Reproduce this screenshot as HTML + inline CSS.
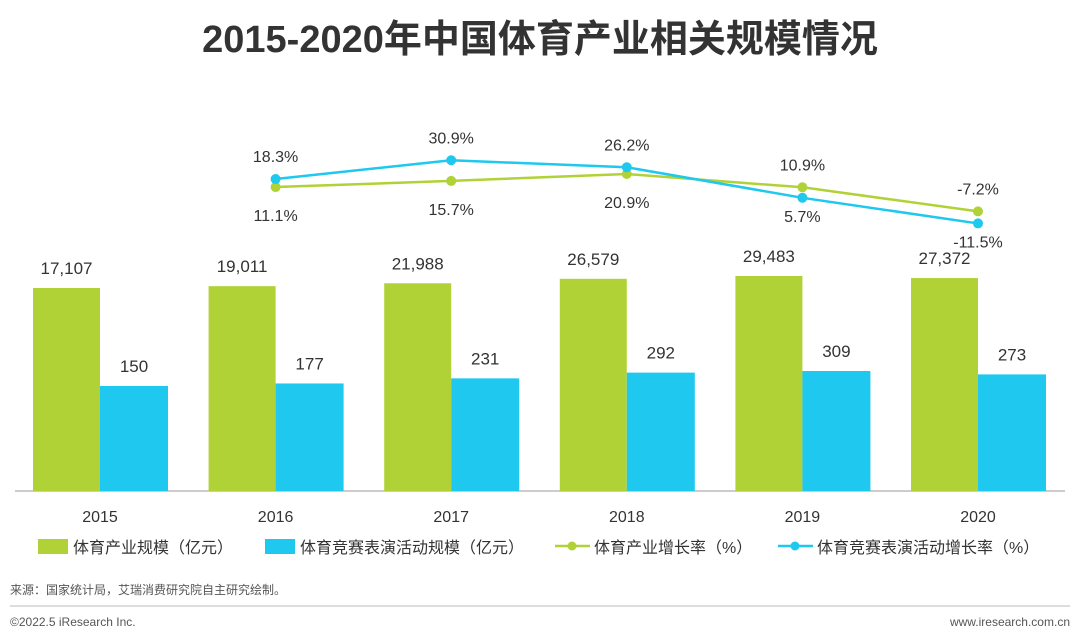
<!DOCTYPE html>
<html><head><meta charset="utf-8"><style>
body{margin:0;background:#fff;}
svg{display:block;font-family:"Liberation Sans","Noto Sans CJK SC",sans-serif;}
</style></head><body>
<svg id="c" width="1080" height="637" viewBox="0 0 1080 637">
<text x="540" y="52" text-anchor="middle" font-size="38" font-weight="bold" fill="#333">2015-2020年中国体育产业相关规模情况</text>
<line x1="15" y1="491" x2="1065" y2="491" stroke="#999" stroke-width="1"/>
<g id="marks"></g>
<g font-size="16" fill="#333">
<rect x="38" y="539" width="30" height="15" fill="#b0d236"/>
<text x="73" y="553">体育产业规模（亿元）</text>
<rect x="265" y="539" width="30" height="15" fill="#1ec8ef"/>
<text x="300" y="553">体育竞赛表演活动规模（亿元）</text>
<line x1="555" y1="546" x2="590" y2="546" stroke="#b0d236" stroke-width="2.5"/>
<circle cx="572" cy="546" r="4.5" fill="#b0d236"/>
<text x="594" y="553">体育产业增长率（%）</text>
<line x1="778" y1="546" x2="813" y2="546" stroke="#1ec8ef" stroke-width="2.5"/>
<circle cx="795" cy="546" r="4.5" fill="#1ec8ef"/>
<text x="817" y="553">体育竞赛表演活动增长率（%）</text>
</g>
<text x="10" y="594" font-size="12" fill="#555">来源：国家统计局，艾瑞消费研究院自主研究绘制。</text>
<line x1="10" y1="606" x2="1070" y2="606" stroke="#bbb" stroke-width="1"/>
<text x="10" y="626" font-size="12" fill="#555">©2022.5 iResearch Inc.</text>
<text x="1070" y="626" font-size="12" fill="#555" text-anchor="end">www.iresearch.com.cn</text>
</svg>
<script>
const years=["2015","2016","2017","2018","2019","2020"];
const industry=[17107,19011,21988,26579,29483,27372];
const events=[150,177,231,292,309,273];
const industryGrowth=[null,11.1,15.7,20.9,10.9,-7.2];
const eventsGrowth=[null,18.3,30.9,26.2,5.7,-11.5];
const industryLabels=["17,107","19,011","21,988","26,579","29,483","27,372"];
const NS="http://www.w3.org/2000/svg";
const g=document.getElementById('marks');
const base=491;
const xc=i=>100+i*175.6;
const hInd=v=>186.4+0.00097*v;
const hEv=v=>90.85+0.0943*v;
const yInd=v=>201.8-1.33*v;
const yEv=v=>206.3-1.49*v;
function mk(t,a,txt){const e=document.createElementNS(NS,t);for(const k in a)e.setAttribute(k,a[k]);if(txt!=null)e.textContent=txt;g.appendChild(e);return e;}
years.forEach((y,i)=>{
  const x=xc(i);
  let h=hInd(industry[i]);
  let r=mk('rect',{x:x-67,y:base-h,width:67,height:h,fill:'#b0d236'});
  
  
  let t=mk('text',{x:x-33.5,y:base-h-14,'text-anchor':'middle','font-size':17,fill:'#333'},industryLabels[i]);
  
  
  h=hEv(events[i]);
  r=mk('rect',{x:x,y:base-h,width:68,height:h,fill:'#1ec8ef'});
  
  
  t=mk('text',{x:x+34,y:base-h-14,'text-anchor':'middle','font-size':17,fill:'#333'},String(events[i]));
  
  
  t=mk('text',{x:x,y:522,'text-anchor':'middle','font-size':16,fill:'#333'},y);
  
  
});
function line(data,yf,col,name,above,below){
  const P=data.map((v,i)=>v==null?null:[xc(i),yf(v),v,i]).filter(q=>q);
  const pl=mk('polyline',{points:P.map(q=>q[0]+','+q[1]).join(' '),fill:'none',stroke:col,'stroke-width':2.5});
  
  
  P.forEach((q,k)=>{
    const c=mk('circle',{cx:q[0],cy:q[1],r:5,fill:col});
    
    
    const up=above[k];
    const t=mk('text',{x:q[0],y:up?q[1]-17:q[1]+below,'text-anchor':'middle','font-size':16,fill:'#333'},q[2].toFixed(1)+'%');
    
    
  });
}
line(industryGrowth,yInd,'#b0d236','industry-growth',[false,false,false,true,true],34);
line(eventsGrowth,yEv,'#1ec8ef','events-growth',[true,true,true,false,false],24);
</script>
</body></html>
